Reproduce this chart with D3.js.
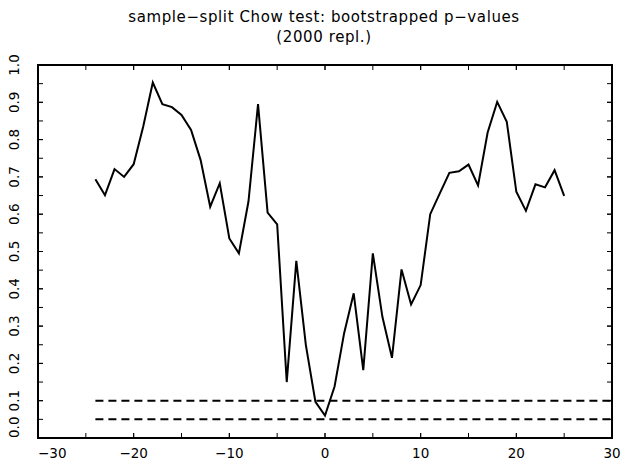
<!DOCTYPE html>
<html><head><meta charset="utf-8">
<script src="https://cdn.jsdelivr.net/npm/d3@7"></script>
<style>body{margin:0;background:#fff}svg{display:block}text{font-family:"DejaVu Sans",sans-serif;fill:#000}</style>
</head><body><svg id="c" width="628" height="464"></svg>
<script>
const titleLines = ["sample\u2212split Chow test: bootstrapped p\u2212values", "(2000 repl.)"];
const splitPoints = d3.range(-24, 26);
const pValues = [0.694,0.651,0.721,0.700,0.734,0.835,0.953,0.895,0.887,0.866,0.826,0.745,0.620,0.683,0.535,0.495,0.634,0.895,0.604,0.573,0.150,0.475,0.249,0.097,0.060,0.138,0.281,0.388,0.182,0.495,0.325,0.215,0.452,0.358,0.410,0.600,0.656,0.711,0.715,0.733,0.677,0.819,0.901,0.848,0.660,0.609,0.680,0.672,0.718,0.649];
const criticalLevels = [0.10, 0.05];
const criticalRange = [-24, 30];
const xTicks = [-30,-20,-10,0,10,20,30];
const yTicks = [0,0.1,0.2,0.3,0.4,0.5,0.6,0.7,0.8,0.9,1.0];
const xMinor = d3.range(-25, 30, 5);
const yMinor = d3.range(0.05, 1.0, 0.05);

const svg = d3.select("#c");
const L = 38, R = 612, T = 65, B = 438;
const x = d3.scaleLinear().domain([-30, 30]).range([L, R]);
const y = d3.scaleLinear().domain([0, 1]).range([B, T]);

svg.selectAll("text.title").data(titleLines).join("text").attr("class","title")
  .attr("x", 324).attr("y", (d,i)=>22+i*20).attr("text-anchor","middle")
  .style("font-size","15px").style("letter-spacing","0.6px").text(d=>d);

// ticks (inward) on all sides
const tl = 5;
const allX = xTicks.concat(xMinor).filter(v=>v>-30&&v<30);
const allY = yTicks.concat(yMinor).filter(v=>v>0.001&&v<0.999);
const g = svg.append("g").attr("stroke","#000").attr("stroke-width",1);
g.selectAll("line.bx").data(allX).join("line").attr("x1",d=>x(d)).attr("x2",d=>x(d)).attr("y1",B).attr("y2",B-tl);
g.selectAll("line.tx").data(allX).join("line").attr("x1",d=>x(d)).attr("x2",d=>x(d)).attr("y1",T).attr("y2",T+tl);
g.selectAll("line.ly").data(allY).join("line").attr("y1",d=>y(d)).attr("y2",d=>y(d)).attr("x1",L).attr("x2",L+tl);
g.selectAll("line.ry").data(allY).join("line").attr("y1",d=>y(d)).attr("y2",d=>y(d)).attr("x1",R).attr("x2",R-tl);

svg.append("rect").attr("x",L).attr("y",T).attr("width",R-L).attr("height",B-T)
  .attr("fill","none").attr("stroke","#000").attr("stroke-width",2);

const fmt = d=> d<0 ? "\u2212"+Math.abs(d) : String(d);
svg.selectAll("text.xl").data(xTicks).join("text").attr("class","xl")
  .attr("x",(d,i)=> i===0 ? L : x(d)).attr("y",B+20)
  .attr("text-anchor",(d,i)=> i===0 ? "start" : "middle")
  .style("font-size","13.5px").text(fmt);
svg.selectAll("text.yl").data(yTicks).join("text").attr("class","yl")
  .attr("transform",(d,i)=>`translate(19,${i===0?B:y(d)}) rotate(-90)`)
  .attr("text-anchor",(d,i)=> i===0 ? "start" : "middle")
  .style("font-size","13.5px").text(d=>d.toFixed(1));

// critical lines
svg.selectAll("line.crit").data(criticalLevels).join("line").attr("class","crit")
  .attr("x1",x(criticalRange[0])).attr("x2",x(criticalRange[1]))
  .attr("y1",d=>y(d)).attr("y2",d=>y(d))
  .attr("stroke","#000").attr("stroke-width",2).attr("stroke-dasharray","8,5");

const line = d3.line().x((d,i)=>x(splitPoints[i])).y(d=>y(d));
svg.append("path").datum(pValues).attr("d",line).attr("fill","none")
  .attr("stroke","#000").attr("stroke-width",2).attr("stroke-linejoin","miter");
</script></body></html>
